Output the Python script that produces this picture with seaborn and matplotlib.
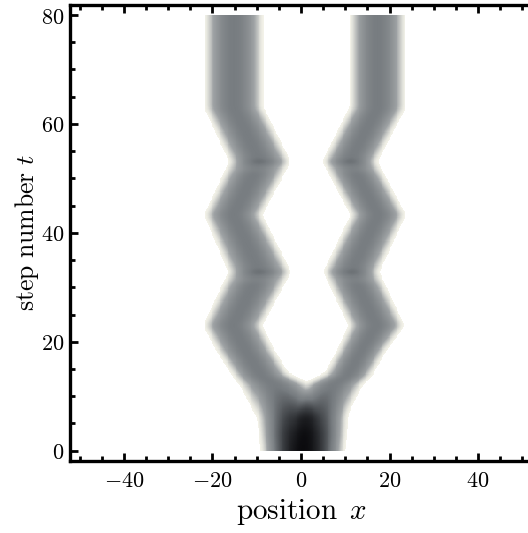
import numpy as np
import pandas as pd
import matplotlib
matplotlib.use("Agg")
import matplotlib.pyplot as plt
from matplotlib.colors import LinearSegmentedColormap
import seaborn as sns

# Branch edges at the turning steps of the walk.
knot_t = [0.0, 6.0, 12.1, 13.9, 18.5, 23.0, 32.8, 43.3, 53.1, 63.0, 80.0]
left_outer = [-8.5, -9.6, -13.3, -15.0, -18.6, -21.5, -15.9, -21.3, -15.7, -21.3, -21.3]
left_inner = [4.0, 4.0, 1.3, -3.2, -6.6, -9.3, -2.8, -9.3, -2.9, -9.0, -9.0]
right_inner = [-1.4, -1.4, 1.3, 5.8, 8.8, 11.3, 5.6, 11.8, 5.4, 11.5, 11.5]
right_outer = [9.4, 9.8, 13.3, 15.5, 18.7, 22.8, 17.1, 23.1, 16.7, 23.1, 23.1]
branch_amp_t = [0.0, 3.0, 12.1, 80.0]
branch_amp = [0.0, 0.1, 0.5, 0.5]

# the initial peak around the origin, which dies out before the split
stem_t = [0.0, 3.0, 6.0, 9.0, 12.1]
stem_amp = [1.0, 0.85, 0.6, 0.3, 0.0]
stem_half = [9.0, 9.4, 9.7, 9.9, 10.0]
stem_center = 0.45

# faint horizontal bands at the two inner turning points
notch_t = [32.8, 53.1]

x_ticks = [-40, -20, 0, 20, 40]
t_ticks = [0, 20, 40, 60, 80]
x_range = (-52.2, 52.2)
t_range = (-1.84, 81.84)

plt.rcParams["mathtext.fontset"] = "cm"
plt.rcParams["font.family"] = ["DejaVu Serif"]


def bump(xx, c, w):
    return np.clip(1.0 - ((xx - c) / w) ** 2, 0, None)


def branch(tt, xx, inner, outer):
    lo = np.interp(tt, knot_t, inner)
    hi = np.interp(tt, knot_t, outer)
    amp = np.interp(tt, branch_amp_t, branch_amp)
    return amp * bump(xx, (lo + hi) / 2.0, np.abs(hi - lo) / 2.0)


def smooth(z, sx, st):
    # separable gaussian blur, sigmas in cells
    for axis, s in ((1, sx), (0, st)):
        k = np.arange(-3 * int(np.ceil(s)), 3 * int(np.ceil(s)) + 1)
        k = np.exp(-0.5 * (k / s) ** 2)
        k /= k.sum()
        z = np.apply_along_axis(lambda r: np.convolve(r, k, mode="same"), axis, z)
    return z


nx, nt = 522, 418
x_edges = np.linspace(*x_range, nx + 1)
t_edges = np.linspace(*t_range, nt + 1)
xc = (x_edges[:-1] + x_edges[1:]) / 2
tc = (t_edges[:-1] + t_edges[1:]) / 2
XX, TT = np.meshgrid(xc, tc)

field = branch(TT, XX, left_inner, left_outer) + branch(TT, XX, right_inner, right_outer)
field += np.interp(TT, stem_t, stem_amp) * bump(XX, stem_center, np.interp(TT, stem_t, stem_half))
for tn in notch_t:
    field *= 1 + 0.15 * np.exp(-((TT - tn) / 0.45) ** 2) - 0.12 * np.exp(-((TT - tn + 1.4) / 0.5) ** 2)
field = smooth(field, 2.5, 2.0)
field[(TT < 0) | (TT > 80)] = np.nan
field[field <= 0.006] = np.nan
df = pd.DataFrame(field, index=np.round(tc, 2), columns=np.round(xc, 2))

cmap = LinearSegmentedColormap.from_list(
    "graytones",
    [(0.0, "#f5f4ea"), (0.07, "#d6d7d2"), (0.22, "#9ea2a4"), (0.5, "#777c80"),
     (0.75, "#3c3f43"), (1.0, "#0a0a0d")])

fig = plt.figure(figsize=(5.28, 5.33), dpi=100)
ax = fig.add_axes([70 / 528, (533 - 460.7) / 533, 462 / 528, (460.7 - 5) / 533])
sns.heatmap(df, cmap=cmap, vmin=0, vmax=1, cbar=False, ax=ax,
            xticklabels=False, yticklabels=False)
ax.set_xlim(0, nx)
ax.set_ylim(0, nt)


def to_x(v):
    return (np.asarray(v, float) - x_range[0]) / (x_range[1] - x_range[0]) * nx


def to_t(v):
    return (np.asarray(v, float) - t_range[0]) / (t_range[1] - t_range[0]) * nt


ax.set_xticks(to_x(x_ticks))
ax.set_xticklabels([r"$%d$" % v for v in x_ticks])
ax.set_yticks(to_t(t_ticks))
ax.set_yticklabels([r"$%d$" % v for v in t_ticks])
ax.set_xticks(to_x(np.arange(-50, 51, 5)), minor=True)
ax.set_yticks(to_t(np.arange(0, 81, 5)), minor=True)
ax.tick_params(which="both", direction="in", top=True, right=False, bottom=True, left=True,
               width=2, color="black", labelsize=16)
ax.tick_params(which="major", length=6)
ax.tick_params(which="minor", length=3.5)
ax.tick_params(axis="x", which="major", pad=7)
ax.tick_params(axis="y", which="major", pad=4)
for s in ax.spines.values():
    s.set_visible(True)
    s.set_linewidth(2.4)
    s.set_color("black")

ax.set_xlabel(r"$\mathrm{position}\ \,x$", fontsize=21, labelpad=3)
ax.set_ylabel(r"$\mathrm{step\ number}\ t$", fontsize=18.5, labelpad=0)

fig.savefig("out.png", dpi=100)
